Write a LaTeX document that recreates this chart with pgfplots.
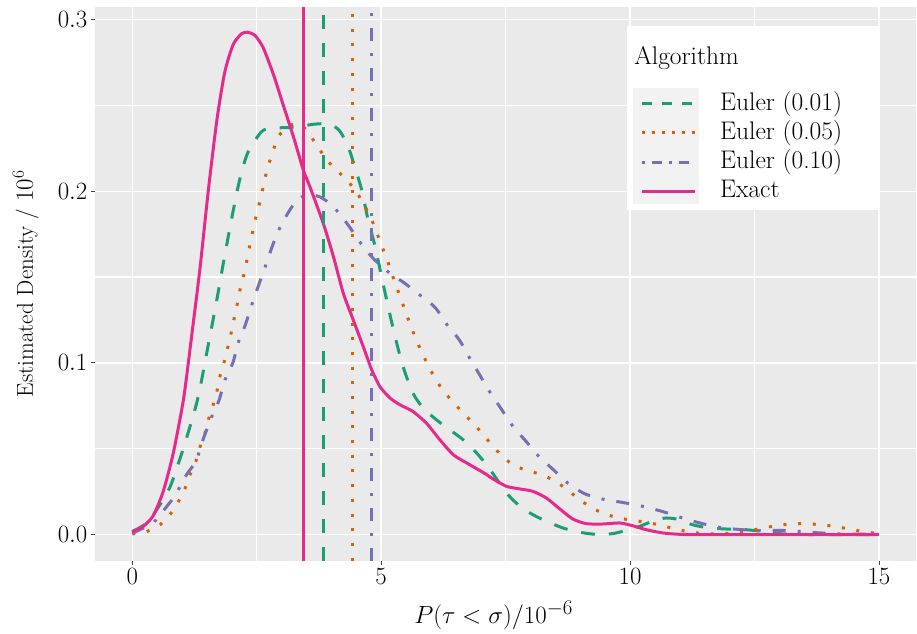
\documentclass[border=0pt]{standalone}
\usepackage{pgfplots}
\pgfplotsset{compat=1.18}
\definecolor{cgreen}{HTML}{1B9E77}
\definecolor{corange}{HTML}{D95F02}
\definecolor{cpurple}{HTML}{7570B3}
\definecolor{cpink}{HTML}{E7298A}
\definecolor{bg}{HTML}{EAEAEA}
\definecolor{hbg}{HTML}{F2F2F2}
\begin{document}
\begin{tikzpicture}
\begin{axis}[
  scale only axis, width=822pt, height=554pt,
  xmin=-0.75, xmax=15.75, ymin=-0.0151, ymax=0.3073,
  axis background/.style={fill=bg},
  axis line style={draw=none},
  xtick={0,5,10,15}, ytick={0,0.1,0.2,0.3},
  minor xtick={2.5,7.5,12.5}, minor ytick={0.05,0.15,0.25},
  grid=both,
  major grid style={white, line width=1.4pt},
  minor grid style={white, line width=1.2pt},
  tick align=outside, major tick length=4pt, minor tick length=0pt,
  tick style={black!75, line width=0.9pt},
  xtick pos=bottom, ytick pos=left,
  yticklabel style={/pgf/number format/fixed, /pgf/number format/precision=1, /pgf/number format/fixed zerofill},
  ticklabel style={font=\fontsize{25}{30}\selectfont},
  xlabel={$P(\tau<\sigma)/10^{-6}$},
  ylabel={Estimated Density / $10^6$},
  every axis x label/.style={at={(axis description cs:0.4854,-0.1137)}, anchor=base, font=\fontsize{28}{33}\selectfont},
  every axis y label/.style={at={(axis description cs:-0.0754,0.5)}, rotate=90, anchor=base, font=\fontsize{23}{28}\selectfont},
  legend image code/.code={\draw[#1] (0pt,0pt) -- (53pt,0pt);},
  legend style={at={(axis cs:10.20,0.2597)}, anchor=north west, draw=none, fill=none, inner sep=0pt,
    font=\fontsize{25.5}{30}\selectfont,
    nodes={text height=19pt, text depth=6pt, inner ysep=2.15pt},
    /tikz/every odd column/.append style={column sep=22pt}},
  legend cell align=left,
]
% legend box
\fill[white] (axis cs:9.94,0.189) rectangle (axis cs:14.98,0.2965);
\fill[hbg] (axis cs:10.06,0.1924) rectangle (axis cs:11.38,0.2599);
\node[anchor=base west, font=\fontsize{25.5}{30}\selectfont, inner sep=0pt] at (axis cs:10.08,0.2738) {Algorithm};

% Euler (0.01)
\addplot[cgreen, line width=3pt, dash pattern=on 14pt off 14pt, smooth, forget plot] coordinates {
(0,0.0018)(0.29,0.0068)(0.52,0.0158)(0.76,0.0279)(0.99,0.047)(1.16,0.063)(1.33,0.081)(1.53,0.111)(1.70,0.137)(1.86,0.163)(2.03,0.189)(2.16,0.207)(2.30,0.221)(2.43,0.228)(2.63,0.2355)(2.90,0.2369)(3.10,0.237)(3.37,0.2378)(3.64,0.239)(3.84,0.2393)(4.01,0.2384)(4.17,0.235)(4.34,0.2258)(4.47,0.2141)(4.61,0.2006)(4.74,0.183)(4.88,0.1676)(5.01,0.150)(5.14,0.1328)(5.28,0.1153)(5.44,0.0979)(5.64,0.0824)(5.85,0.0736)(6.11,0.0669)(6.38,0.061)(6.65,0.0552)(6.92,0.0475)(7.19,0.0378)(7.52,0.0242)(7.79,0.0165)(8.05,0.0116)(8.32,0.0078)(8.65,0.0039)(8.99,0.0014)(9.32,0.0002)(9.65,0.0006)(9.92,0.0025)(10.19,0.0048)(10.45,0.0078)(10.72,0.0097)(10.99,0.0087)(11.25,0.0058)(11.59,0.0039)(11.92,0.0033)(12.32,0.0029)(12.65,0.0019)(12.99,0.0006)(13.5,0.0001)(15,0)
};
% Euler (0.05)
\addplot[corange, line width=3pt, dash pattern=on 3pt off 11.7pt, smooth, forget plot] coordinates {
(0,0.0004)(0.29,0.0018)(0.56,0.0058)(0.76,0.0118)(0.92,0.0189)(1.06,0.0269)(1.16,0.0349)(1.28,0.0429)(1.36,0.051)(1.46,0.059)(1.53,0.067)(1.62,0.075)(1.70,0.0834)(1.76,0.092)(1.84,0.100)(1.91,0.108)(1.98,0.1167)(2.04,0.125)(2.10,0.133)(2.16,0.142)(2.23,0.150)(2.29,0.158)(2.35,0.1667)(2.41,0.175)(2.47,0.1833)(2.54,0.191)(2.61,0.1998)(2.67,0.208)(2.75,0.2164)(2.84,0.2245)(2.95,0.2325)(3.15,0.2380)(3.37,0.2393)(3.57,0.2326)(3.74,0.2254)(3.90,0.2184)(4.11,0.2122)(4.31,0.2064)(4.49,0.2002)(4.65,0.1924)(4.79,0.1847)(4.90,0.1769)(5.00,0.169)(5.11,0.161)(5.20,0.1531)(5.30,0.145)(5.40,0.137)(5.50,0.129)(5.60,0.1211)(5.71,0.1132)(5.83,0.1052)(5.96,0.0977)(6.10,0.0901)(6.27,0.0831)(6.46,0.0766)(6.66,0.0705)(6.86,0.0645)(7.06,0.0579)(7.25,0.0514)(7.45,0.0452)(7.68,0.0401)(7.96,0.0372)(8.24,0.0347)(8.50,0.031)(8.74,0.0262)(8.97,0.0207)(9.21,0.0161)(9.47,0.0122)(9.76,0.0099)(10.05,0.0083)(10.33,0.0072)(10.62,0.0054)(10.91,0.0033)(11.19,0.0016)(11.49,0.0006)(11.78,0.0004)(12.07,0.001)(12.36,0.0021)(12.65,0.0037)(12.94,0.0052)(13.23,0.0062)(13.52,0.0064)(13.81,0.0058)(14.11,0.0048)(14.39,0.0033)(14.69,0.0017)(15,0.0006)
};
% Euler (0.10)
\addplot[cpurple, line width=3pt, dash pattern=on 13pt off 12pt on 3pt off 12pt, smooth, forget plot] coordinates {
(0,0.0008)(0.22,0.0038)(0.42,0.0068)(0.66,0.0152)(0.86,0.0229)(1.09,0.0349)(1.28,0.0429)(1.43,0.056)(1.60,0.069)(1.74,0.078)(1.86,0.090)(2.02,0.100)(2.13,0.112)(2.27,0.122)(2.39,0.133)(2.53,0.1446)(2.65,0.1542)(2.80,0.1669)(2.94,0.1773)(3.14,0.1879)(3.30,0.1943)(3.50,0.1978)(3.77,0.1967)(4.04,0.1909)(4.34,0.1802)(4.57,0.1705)(4.84,0.1609)(5.18,0.1521)(5.46,0.1467)(5.78,0.1395)(6.08,0.1324)(6.35,0.1211)(6.57,0.1134)(6.78,0.1027)(6.98,0.093)(7.19,0.0828)(7.41,0.0733)(7.65,0.063)(7.90,0.0547)(8.17,0.0455)(8.46,0.0378)(8.75,0.030)(9.09,0.0238)(9.45,0.0207)(9.88,0.0186)(10.25,0.0165)(10.66,0.0134)(11.05,0.0097)(11.43,0.0066)(11.82,0.0041)(12.25,0.0029)(12.65,0.0023)(13.02,0.0025)(13.39,0.0019)(13.82,0.001)(14.32,0.0004)(15,0.0002)
};
% Exact
\addplot[cpink, line width=3pt, smooth, tension=0.4, forget plot] coordinates {
(0,0.0018)(0.22,0.0048)(0.42,0.011)(0.62,0.025)(0.82,0.047)(1.03,0.079)(1.19,0.115)(1.36,0.155)(1.53,0.201)(1.70,0.2415)(1.86,0.2696)(2.03,0.2856)(2.20,0.2918)(2.32,0.2926)(2.47,0.2906)(2.63,0.2836)(2.84,0.2676)(3.04,0.2495)(3.24,0.2315)(3.44,0.212)(3.57,0.2025)(3.84,0.181)(4.04,0.162)(4.24,0.1405)(4.44,0.125)(4.64,0.1095)(4.81,0.096)(4.98,0.086)(5.18,0.0795)(5.38,0.0756)(5.64,0.0717)(5.91,0.0649)(6.18,0.0552)(6.45,0.0465)(6.72,0.0417)(7.05,0.0362)(7.25,0.0324)(7.52,0.0281)(7.79,0.0266)(8.05,0.0252)(8.32,0.0213)(8.59,0.0149)(8.85,0.0091)(9.12,0.0064)(9.45,0.0062)(9.79,0.0068)(10.05,0.0052)(10.32,0.0029)(10.65,0.001)(10.99,0.0002)(11.5,0)(15,0)
};
% vertical lines (means)
\addplot[cgreen, line width=3pt, dash pattern=on 14pt off 14pt, forget plot] coordinates {(3.837,-0.0151)(3.837,0.3073)};
\addplot[corange, line width=3pt, dash pattern=on 3pt off 11.7pt, forget plot] coordinates {(4.427,-0.0151)(4.427,0.3073)};
\addplot[cpurple, line width=3pt, dash pattern=on 13pt off 12pt on 3pt off 12pt, forget plot] coordinates {(4.809,-0.0151)(4.809,0.3073)};
\addplot[cpink, line width=3pt, forget plot] coordinates {(3.435,-0.0151)(3.435,0.3073)};

\addlegendimage{cgreen, line width=3pt, dash pattern=on 10pt off 10pt}
\addlegendentry{Euler (0.01)}
\addlegendimage{corange, line width=3pt, dash pattern=on 3pt off 7pt}
\addlegendentry{Euler (0.05)}
\addlegendimage{cpurple, line width=3pt, dash pattern=on 3pt off 7pt on 10pt off 7pt}
\addlegendentry{Euler (0.10)}
\addlegendimage{cpink, line width=3pt}
\addlegendentry{Exact}
\end{axis}
\path ([xshift=-95pt,yshift=-73pt]current axis.south west) rectangle ([yshift=7pt]current axis.north east);
\end{tikzpicture}
\end{document}
